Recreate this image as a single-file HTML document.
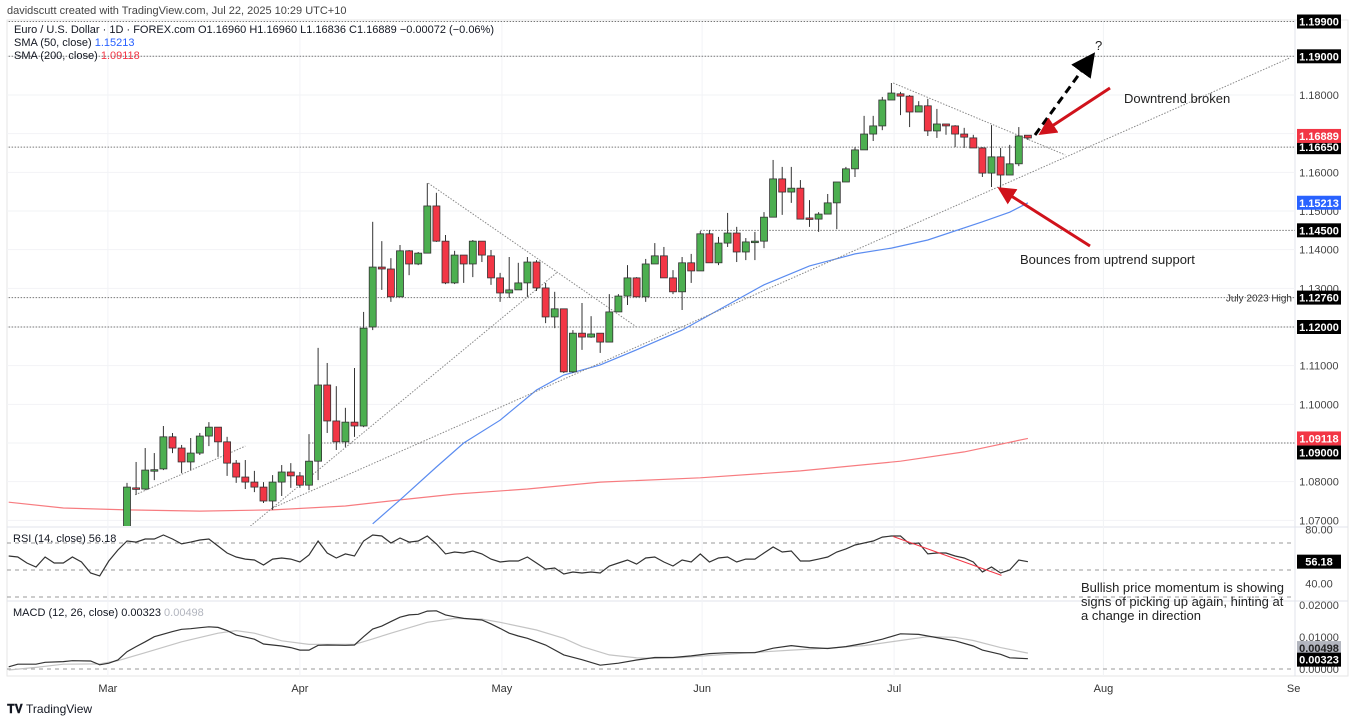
<!DOCTYPE html>
<html><head><meta charset="utf-8"><style>
html,body{margin:0;padding:0;background:#fff;}
svg{display:block;font-family:"Liberation Sans",sans-serif;}
</style></head><body>
<svg id="chart" width="1350" height="722" viewBox="0 0 1350 722">
<defs>
<clipPath id="mainClip"><rect x="7" y="20" width="1288" height="506"/></clipPath>
<clipPath id="rsiClip"><rect x="7" y="528" width="1288" height="72"/></clipPath>
<clipPath id="macdClip"><rect x="7" y="602" width="1288" height="74"/></clipPath>
<marker id="blkHead" markerWidth="8" markerHeight="8" refX="4" refY="4" orient="auto"><path d="M0,0 L8,4 L0,8 z" fill="#000"/></marker>
<marker id="redHead" markerWidth="6" markerHeight="6" refX="3" refY="3" orient="auto"><path d="M0,0 L6,3 L0,6 z" fill="#d0121b"/></marker>
</defs>
<text x="7" y="14" font-size="11" fill="#444">davidscutt created with TradingView.com, Jul 22, 2025 10:29 UTC+10</text>
<rect x="7" y="20" width="1341" height="656" fill="none" stroke="#e6e6e6"/>
<line x1="1295" y1="20" x2="1295" y2="676" stroke="#e0e3eb"/>
<line x1="7" y1="527" x2="1348" y2="527" stroke="#e0e3eb"/>
<line x1="7" y1="601" x2="1348" y2="601" stroke="#e0e3eb"/>
<g id="grid"></g>
<g id="levels" clip-path="url(#mainClip)"></g>
<g id="smas" clip-path="url(#mainClip)"></g>
<g id="trend" clip-path="url(#mainClip)"></g>
<g id="candles" clip-path="url(#mainClip)"></g>
<g id="rsi" clip-path="url(#rsiClip)"></g>
<g id="macd" clip-path="url(#macdClip)"></g>
<g id="axis"></g>
<g id="xaxis"></g>

<text x="14" y="33" font-size="11" fill="#131722">Euro / U.S. Dollar · 1D · FOREX.com  O1.16960  H1.16960  L1.16836  C1.16889  −0.00072 (−0.06%)</text>
<text x="14" y="46" font-size="11" fill="#131722">SMA (50, close) <tspan fill="#2962ff">1.15213</tspan></text>
<text x="14" y="59" font-size="11" fill="#131722">SMA (200, close) <tspan fill="#f23645">1.09118</tspan></text>
<text x="13" y="542" font-size="11" fill="#131722">RSI (14, close)  56.18</text>
<text x="13" y="616" font-size="11" fill="#131722">MACD (12, 26, close)  0.00323  <tspan fill="#b2b5be">0.00498</tspan></text>

<line x1="1035" y1="135" x2="1088" y2="62" stroke="#000" stroke-width="3" stroke-dasharray="8,5" marker-end="url(#blkHead)"/>
<text x="1095" y="50" font-size="13" fill="#222">?</text>
<line x1="1110" y1="88" x2="1046" y2="130" stroke="#d0121b" stroke-width="3" marker-end="url(#redHead)"/>
<text x="1124" y="103" font-size="13" fill="#222">Downtrend broken</text>
<line x1="1090" y1="246" x2="1005" y2="192" stroke="#d0121b" stroke-width="3" marker-end="url(#redHead)"/>
<text x="1020" y="264" font-size="13" fill="#222">Bounces from uptrend support</text>
<text font-size="13" fill="#222"><tspan x="1081" y="592">Bullish price momentum is showing</tspan><tspan x="1081" y="606">signs of picking up again, hinting at</tspan><tspan x="1081" y="620">a change in direction</tspan></text>
<text x="7" y="713" font-size="12" font-weight="bold" fill="#131722">𝐓𝐕 <tspan font-weight="normal">TradingView</tspan></text>
</svg>
<script>
const opens=[1.0680,1.0784,1.0781,1.0830,1.0833,1.0916,1.0887,1.0851,1.0874,1.0918,1.0941,1.0903,1.0848,1.0812,1.0799,1.0786,1.0750,1.0799,1.0825,1.0815,1.0791,1.0853,1.1050,1.0957,1.0903,1.0954,1.0944,1.1200,1.1355,1.1350,1.1278,1.1397,1.1363,1.1391,1.1513,1.1422,1.1314,1.1386,1.1363,1.1422,1.1384,1.1327,1.1288,1.1296,1.1314,1.1368,1.1301,1.1226,1.1247,1.1084,1.1184,1.1174,1.1184,1.1161,1.1239,1.1280,1.1327,1.1278,1.1363,1.1384,1.1327,1.1291,1.1366,1.1345,1.1441,1.1366,1.1417,1.1443,1.1394,1.1420,1.1422,1.1484,1.1583,1.1549,1.1559,1.1482,1.1479,1.1492,1.1521,1.1575,1.1609,1.1658,1.1699,1.1720,1.1787,1.1803,1.1797,1.1756,1.1772,1.1707,1.1725,1.1720,1.1699,1.1689,1.1663,1.1598,1.1640,1.1593,1.1622,1.1696];
const closes=[1.0786,1.0781,1.0830,1.0831,1.0916,1.0887,1.0851,1.0874,1.0918,1.0941,1.0903,1.0848,1.0812,1.0799,1.0786,1.0750,1.0799,1.0825,1.0815,1.0791,1.0853,1.1050,1.0957,1.0903,1.0954,1.0944,1.1197,1.1355,1.1350,1.1278,1.1397,1.1363,1.1391,1.1513,1.1422,1.1314,1.1386,1.1363,1.1422,1.1386,1.1327,1.1288,1.1296,1.1314,1.1368,1.1301,1.1226,1.1247,1.1084,1.1184,1.1174,1.1182,1.1161,1.1239,1.1280,1.1327,1.1278,1.1363,1.1384,1.1327,1.1291,1.1366,1.1345,1.1441,1.1366,1.1417,1.1443,1.1394,1.1420,1.1422,1.1484,1.1583,1.1549,1.1559,1.1479,1.1479,1.1492,1.1521,1.1575,1.1609,1.1658,1.1699,1.1720,1.1787,1.1805,1.1797,1.1756,1.1772,1.1707,1.1725,1.1720,1.1699,1.1691,1.1663,1.1598,1.1640,1.1593,1.1622,1.1694,1.16889];
const highs=[1.0797,1.0851,1.0887,1.0874,1.0944,1.0926,1.0895,1.0913,1.0926,1.0954,1.0941,1.0916,1.0856,1.0856,1.0828,1.0799,1.0817,1.0843,1.0848,1.0825,1.0923,1.1146,1.1107,1.1047,1.0991,1.1094,1.1239,1.1472,1.1422,1.1378,1.1412,1.1399,1.1394,1.1572,1.1547,1.1438,1.1397,1.1386,1.1425,1.1422,1.1399,1.1340,1.1381,1.1366,1.1381,1.1373,1.1314,1.1291,1.1247,1.1192,1.1262,1.1228,1.1184,1.1285,1.1285,1.1360,1.1329,1.1376,1.1417,1.1407,1.1347,1.1381,1.1389,1.1448,1.1451,1.1433,1.1495,1.1459,1.1430,1.1446,1.1497,1.1632,1.1614,1.1614,1.1580,1.1528,1.1497,1.1544,1.1575,1.1614,1.1665,1.1746,1.1746,1.1795,1.1831,1.1808,1.1800,1.1784,1.1790,1.1764,1.1725,1.1722,1.1715,1.1697,1.1665,1.1722,1.1663,1.1671,1.1717,1.1696];
const lows=[1.0675,1.0766,1.0778,1.0804,1.0830,1.0874,1.0822,1.0830,1.0869,1.0892,1.0864,1.0815,1.0797,1.0781,1.0773,1.0745,1.0727,1.0763,1.0784,1.0784,1.0778,1.0804,1.0926,1.0882,1.0890,1.0916,1.0941,1.1192,1.1296,1.1265,1.1278,1.1334,1.1360,1.1391,1.1420,1.1311,1.1311,1.1314,1.1329,1.1368,1.1309,1.1265,1.1275,1.1296,1.1278,1.1293,1.1210,1.1197,1.1081,1.1081,1.1141,1.1172,1.1133,1.1161,1.1239,1.1257,1.1278,1.1265,1.1363,1.1327,1.1285,1.1244,1.1314,1.1345,1.1366,1.1360,1.1407,1.1368,1.1373,1.1373,1.1404,1.1484,1.1490,1.1521,1.1479,1.1459,1.1446,1.1492,1.1453,1.1575,1.1588,1.1658,1.1681,1.1709,1.1787,1.1748,1.1717,1.1756,1.1694,1.1689,1.1697,1.1665,1.1663,1.1663,1.1588,1.1562,1.1559,1.1593,1.1616,1.16836];
const sma50Idx=[27,30,34,37,41,45,48,52,56,61,65,70,75,80,84,88,94,97,99];
const sma50Vals=[1.0691,1.0753,1.0838,1.0900,1.0959,1.1037,1.1076,1.1102,1.1141,1.1192,1.1244,1.1309,1.1358,1.1389,1.1404,1.1425,1.1472,1.1497,1.15213];
const sma200Idx=[-13,-7,0,8,16,24,30,36,44,52,63,74,85,92,99];
const sma200Vals=[1.0747,1.0732,1.0727,1.0724,1.0727,1.0737,1.0753,1.0768,1.0781,1.0799,1.0810,1.0828,1.0853,1.0877,1.09118];
const rsiStart=-13;
const rsiVals=[60.4,59.6,55.2,52.2,59.6,55.2,55.2,59.6,55.9,47.8,45.6,56.7,64.8,71.5,70.7,73,73,75.9,73,69.3,70.7,72.2,73,67.8,62.6,59.6,58.1,57.4,53.7,58.1,58.9,58.1,55.9,61.1,71.5,62.6,58.9,61.9,60.4,71.5,75.9,75.2,70,73.7,70.7,71.5,75.2,69.3,61.9,63.3,62.6,64.1,61.9,58.1,55.9,56.7,56.7,59.6,55.2,50.7,51.5,47,48.5,47.8,48.5,47.8,53,55.2,57.4,54.4,58.9,59.6,55.9,53,57.4,55.9,61.9,55.9,58.9,59.6,55.9,58.1,58.1,62.6,67,63.3,64.1,56.7,56.7,58.1,59.6,63.3,65.6,68.5,70,71.5,74.4,75.2,75.2,69.3,70,61.9,62.6,62.6,60.4,58.9,55.9,48.5,52.2,47.8,50,57.4,56.18];
const macdIdx=[-13,-12,-10,-9,-7,-6,-4,-3,-2,-1,0,1,2,3,5,6,7,8,9,10,11,12,14,15,17,18,19,20,21,22,24,25,26,27,28,29,30,31,32,33,34,35,36,37,39,40,41,42,43,44,46,48,50,52,54,56,58,60,62,64,66,69,71,73,75,77,79,81,83,85,87,89,91,93,94,96,97,99];
const macdVals=[0.0007,0.0015,0.0015,0.0021,0.0023,0.0026,0.0025,0.0013,0.0018,0.0028,0.0054,0.0070,0.0085,0.0101,0.0117,0.0124,0.0126,0.0129,0.0132,0.0130,0.0120,0.0106,0.0093,0.0078,0.0072,0.0067,0.0059,0.0059,0.0074,0.0075,0.0074,0.0075,0.0101,0.0125,0.0134,0.0148,0.0162,0.0169,0.0171,0.0181,0.0182,0.0169,0.0163,0.0158,0.0153,0.0141,0.0127,0.0112,0.0103,0.0096,0.0075,0.0044,0.0029,0.0012,0.0018,0.0028,0.0036,0.0036,0.0041,0.0048,0.0051,0.0051,0.0065,0.0073,0.0067,0.0064,0.0070,0.0080,0.0093,0.0110,0.0108,0.0098,0.0088,0.0072,0.0059,0.0046,0.0035,0.00323];
const sigIdx=[-13,-10,-7,-3,-1,2,6,10,12,14,17,20,25,27,29,33,36,39,41,45,48,50,53,56,58,61,65,69,73,77,81,85,88,91,93,96,99];
const sigVals=[-0.0003,0.0005,0.0015,0.0016,0.0026,0.0051,0.0085,0.0112,0.0120,0.0112,0.0088,0.0077,0.0077,0.0094,0.0112,0.0146,0.0158,0.0156,0.0146,0.0122,0.0096,0.0070,0.0044,0.0035,0.0033,0.0036,0.0044,0.0052,0.0059,0.0065,0.0073,0.0089,0.0101,0.0099,0.0089,0.0067,0.00498];
const levelPrices=[1.1990,1.1900,1.1665,1.1450,1.1276,1.1200,1.0900];
const levelStartIdx=[-14,-14,-14,63,-14,-14,20];
const axisTicks=[1.18,1.17,1.16,1.15,1.14,1.13,1.11,1.10,1.08,1.07];
const monthLabels=["Mar","Apr","May","Jun","Jul","Aug","Se"];
const monthIdx=[-2.1,19,41.2,63.2,84.3,107.3,128.2];

const NS="http://www.w3.org/2000/svg";
const X=i=>127+i*9.1;
const Y=p=>327-(p-1.12)*3867;
const RY=v=>570-(v-50)*1.35;
const MY=v=>669-v*3200;
function mk(tag,attrs,parent){const e=document.createElementNS(NS,tag);for(const k in attrs)e.setAttribute(k,attrs[k]);parent.appendChild(e);return e;}
const g=id=>document.getElementById(id);

for(let p=1.07;p<=1.195;p+=0.01){const l=mk('line',{x1:7,x2:1295,y1:Y(p),y2:Y(p),stroke:'#f2f3f6'},g('grid'));

}
monthIdx.slice(0,6).forEach(i=>{const l=mk('line',{x1:X(i),x2:X(i),y1:20,y2:676,stroke:'#f2f3f6'},g('grid'));

});

levelPrices.forEach((p,k)=>{const l=mk('line',{x1:X(levelStartIdx[k]),x2:1295,y1:Y(p),y2:Y(p),stroke:'#777','stroke-dasharray':'1.5,1.5'},g('levels'));

});

function poly(idx,vals,yf,color,parent,name,w){const pts=idx.map((i,k)=>X(i).toFixed(1)+','+yf(vals[k]).toFixed(1)).join(' ');
const e=mk('polyline',{points:pts,fill:'none',stroke:color,'stroke-width':w||1},parent);

return e;}
poly(sma200Idx,sma200Vals,Y,'#f77c80',g('smas'),'sma200-line',1.2);
poly(sma50Idx,sma50Vals,Y,'#5b8cf0',g('smas'),'sma50-line',1.2);

const tlA=[[0.9,1.0766,13,1.0892],[13.3,1.0680,47.3,1.1342],[16,1.0732,127.8,1.1896],[33.1,1.1572,56,1.1200],[84.2,1.1831,103.1,1.1645]];
tlA.forEach(t=>{const l=mk('line',{x1:X(t[0]),y1:Y(t[1]),x2:X(t[2]),y2:Y(t[3]),stroke:'#888','stroke-dasharray':'1.5,1.5'},g('trend'));

});

opens.forEach((o,i)=>{const c=closes[i],up=c>=o,x=X(i);
const w=mk('line',{x1:x,x2:x,y1:Y(highs[i]),y2:Y(lows[i]),stroke:'#333','stroke-width':1},g('candles'));


const top=Y(Math.max(o,c)),h=Math.max(1.5,Math.abs(Y(o)-Y(c)));
const b=mk('rect',{x:x-3.5,y:top,width:7,height:h,fill:up?'#4caf50':'#f23645',stroke:'#333','stroke-width':0.8},g('candles'));

});

[70,50,30].forEach(v=>{const l=mk('line',{x1:7,x2:1295,y1:RY(v),y2:RY(v),stroke:'#999','stroke-dasharray':'4,4'},g('rsi'));

});
const rsiIdx=rsiVals.map((v,k)=>rsiStart+k);
poly(rsiIdx,rsiVals,RY,'#333',g('rsi'),'rsi-line',1.2);
const rt=mk('line',{x1:X(84.2),y1:RY(74.8),x2:X(96.1),y2:RY(46),stroke:'#f23645','stroke-width':1},g('rsi'));



const z=mk('line',{x1:7,x2:1295,y1:MY(0),y2:MY(0),stroke:'#999','stroke-dasharray':'4,4'},g('macd'));


poly(sigIdx,sigVals,MY,'#c4c4c4',g('macd'),'macd-signal-line',1.2);
poly(macdIdx,macdVals,MY,'#333',g('macd'),'macd-line',1.2);

axisTicks.forEach(p=>{const t=mk('text',{x:1319,y:Y(p)+4,'font-size':11,fill:'#444','text-anchor':'middle'},g('axis'));t.textContent=p.toFixed(5);

});
function box(y,txt,bg,name,fg){const r=mk('rect',{x:1297,y:y-7,width:44,height:14,fill:bg},g('axis'));


const t=mk('text',{x:1319,y:y+4,'font-size':11,'font-weight':'bold',fill:fg||'#fff','text-anchor':'middle'},g('axis'));t.textContent=txt;

}
const lastSma200Y=Y(sma200Vals[sma200Vals.length-1]);
levelPrices.forEach(p=>{let y=Y(p);if(Math.abs(y-lastSma200Y)<14)y=lastSma200Y+14;box(y,p.toFixed(5),'#000','level-label');});
box(Y(closes[closes.length-1])-2,closes[closes.length-1].toFixed(5),'#f23645','last-price-label');
box(Y(sma50Vals[sma50Vals.length-1]),sma50Vals[sma50Vals.length-1].toFixed(5),'#2962ff','sma50-label');
box(lastSma200Y,sma200Vals[sma200Vals.length-1].toFixed(5),'#f23645','sma200-label');
const jl=mk('text',{x:1292,y:Y(1.1276)+4,'font-size':10,fill:'#333','text-anchor':'end'},g('axis'));jl.textContent='July 2023 High';


[[80,'80.00'],[40,'40.00']].forEach(a=>{const t=mk('text',{x:1319,y:RY(a[0])+4,'font-size':11,fill:'#444','text-anchor':'middle'},g('axis'));t.textContent=a[1];

});
box(RY(rsiVals[rsiVals.length-1]),rsiVals[rsiVals.length-1].toFixed(2),'#000','rsi-value-label');
[[0.02,'0.02000'],[0.01,'0.01000'],[0,'0.00000']].forEach(a=>{const t=mk('text',{x:1319,y:MY(a[0])+4,'font-size':11,fill:'#444','text-anchor':'middle'},g('axis'));t.textContent=a[1];

});
box(MY(sigVals[sigVals.length-1])-5,sigVals[sigVals.length-1].toFixed(5),'#b2b5be','signal-value-label','#222');
box(MY(macdVals[macdVals.length-1])+1,macdVals[macdVals.length-1].toFixed(5),'#000','macd-value-label');

monthLabels.forEach((m,k)=>{const t=mk('text',{x:X(monthIdx[k]),y:692,'font-size':11,fill:'#333','text-anchor':'middle'},g('xaxis'));t.textContent=m;

});
</script>
</body></html>
